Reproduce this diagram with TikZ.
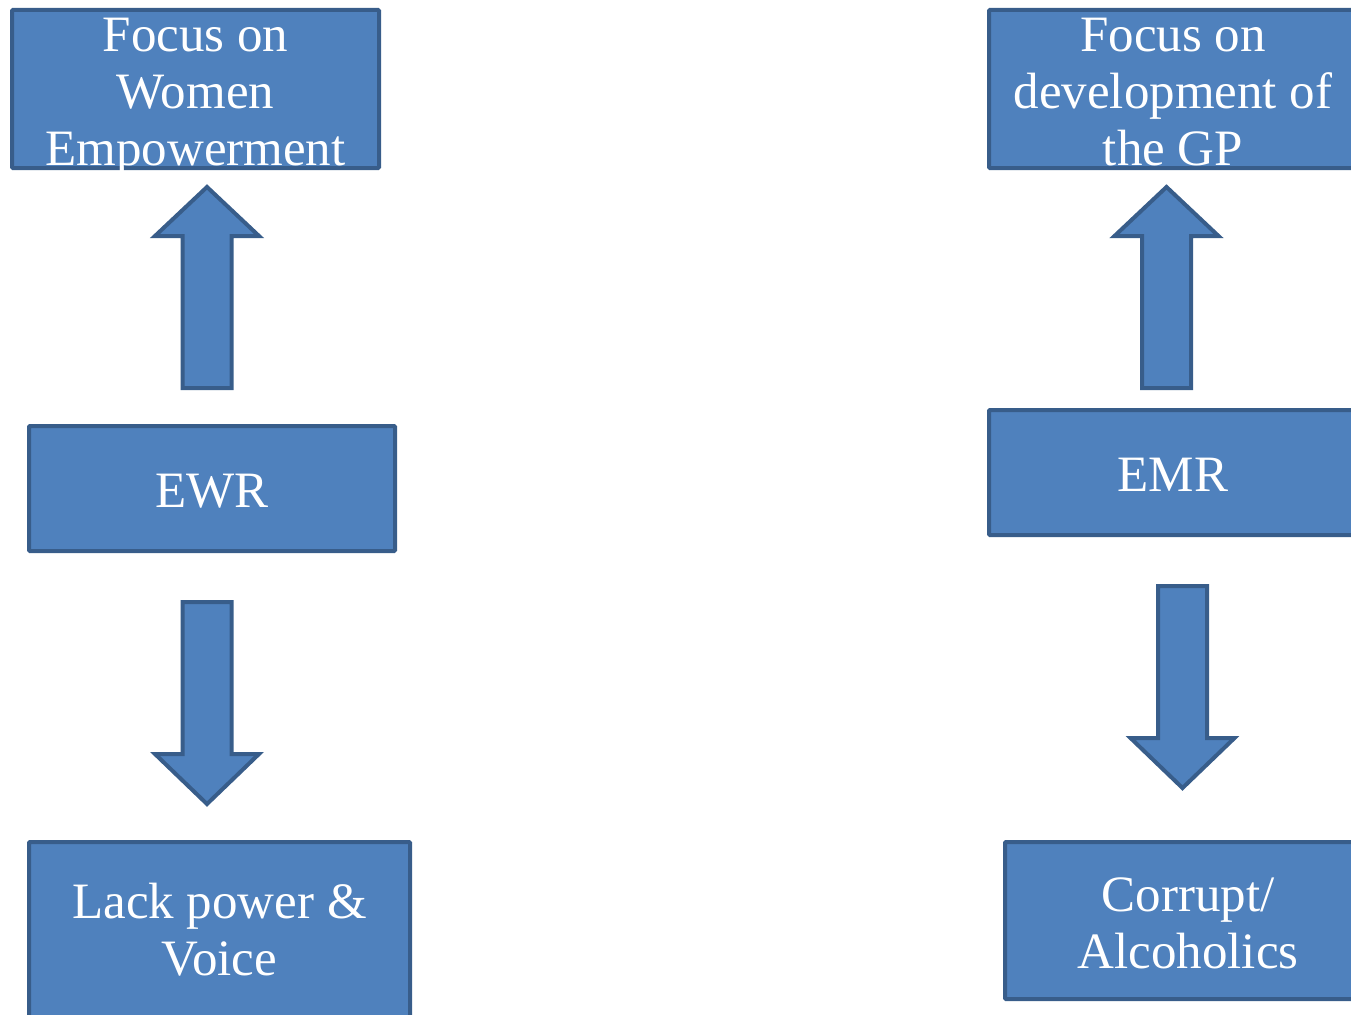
\documentclass[tikz,border=0pt]{standalone}
\usepackage{fontspec}
\setmainfont{Liberation Serif}
\definecolor{boxfill}{HTML}{4F81BD}
\definecolor{boxline}{HTML}{385D8A}
\tikzset{
  box/.style={draw=boxline, fill=boxfill, line width=4pt, rounded corners=1pt, rectangle, inner sep=0pt},
  boxtext/.style={text=white, align=center, inner sep=0pt, font=\fontsize{51}{57}\selectfont},
  blkarrow/.style={draw=boxline, fill=boxfill, line width=4pt, line join=miter}
}
\begin{document}
\begin{tikzpicture}[x=1pt,y=-1pt]
\useasboundingbox (0,0) rectangle (1351,1014);
\clip (0,0) rectangle (1351,1014);
% boxes
\node[box, minimum width=367pt, minimum height=158pt] (b1) at (195.5,89) {};
\node[box, minimum width=368pt, minimum height=158pt] (b2) at (1173,89) {};
\node[box, minimum width=366pt, minimum height=125pt] (ewr) at (212,488.5) {};
\node[box, minimum width=368pt, minimum height=125pt] (emr) at (1173,472.5) {};
\node[box, minimum width=381pt, minimum height=178pt] (lack) at (219.5,931) {};
\node[box, minimum width=366pt, minimum height=157pt] (corr) at (1188,920.5) {};
% block arrows
\draw[blkarrow] (207,187) -- (259,236) -- (231.5,236) -- (231.5,388) -- (182.5,388) -- (182.5,236) -- (155,236) -- cycle;
\draw[blkarrow] (207,804) -- (259,754) -- (231.5,754) -- (231.5,602) -- (182.5,602) -- (182.5,754) -- (155,754) -- cycle;
\draw[blkarrow] (1166.5,187) -- (1218.5,236) -- (1191,236) -- (1191,388) -- (1142,388) -- (1142,236) -- (1114.5,236) -- cycle;
\draw[blkarrow] (1182.5,788) -- (1234.5,738) -- (1207,738) -- (1207,586) -- (1158,586) -- (1158,738) -- (1130.5,738) -- cycle;
% texts
\node[boxtext] (t1) at (195.5,97.7) {Focus on\\Women\\Empowerment};
\node[boxtext] (t2) at (1173,92.5) {Focus on\\development of\\the GP};
\node[boxtext] (t3) at (212,491) {EWR};
\node[boxtext] (t4) at (1173,475) {EMR};
\node[boxtext] (t5) at (219.5,930) {Lack power \&\\Voice};
\node[boxtext] (t6) at (1188,923) {Corrupt/\\Alcoholics};
\end{tikzpicture}
\end{document}
